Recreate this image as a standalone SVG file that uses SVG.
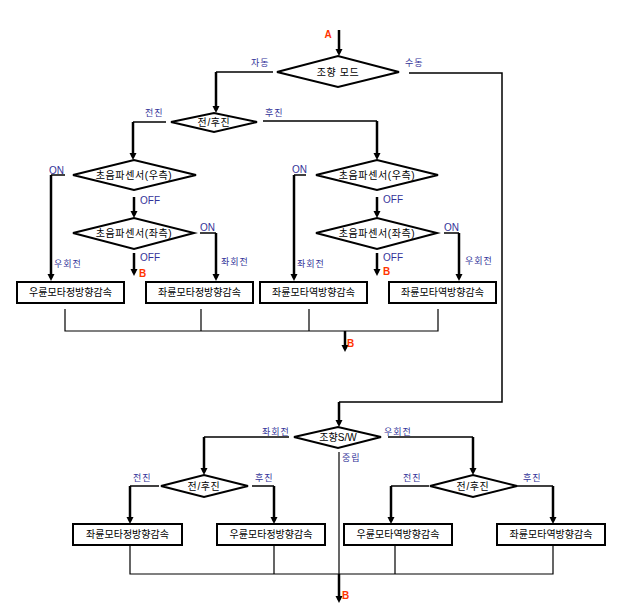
<svg xmlns="http://www.w3.org/2000/svg" width="621" height="606" viewBox="0 0 621 606">
<defs>
<marker id="ah" markerUnits="userSpaceOnUse" markerWidth="8" markerHeight="8" refX="4" refY="4" orient="auto">
<path d="M0,0.5 L7,4 L0,7.5 z" fill="#000"/>
</marker>
<style>
.thin{stroke:#000;stroke-width:1.5;fill:none}
.hair{stroke:#000;stroke-width:1.2;fill:none}
.thick{stroke:#000;stroke-width:2.5;fill:none;marker-end:url(#ah)}
.dia{fill:#fff;stroke:#000;stroke-width:2}
.box{fill:#fff;stroke:#000;stroke-width:2}
text{font-family:"Liberation Sans","Noto Sans CJK KR",sans-serif}
.nt{font-size:10px;fill:#000;text-anchor:middle}
.dt{letter-spacing:0.6px}
.lb{font-size:9px;fill:#333399;letter-spacing:1px}
.en{font-size:10px;fill:#333399}
.red{font-size:10px;fill:#ff3300;font-weight:bold}
</style>
</defs>
<rect width="621" height="606" fill="#fff"/>

<g id="connectors">
<path class="thick" d="M339,30 V53"/>
<path class="thin" d="M273,72 H216"/>
<path class="thick" d="M216,72 V110"/>
<path class="thin" d="M409,73 H502 V402 H339"/>
<path class="thick" d="M339,402 V424"/>
<path class="thin" d="M166,122 H133"/>
<path class="thick" d="M133,122 V157"/>
<path class="thin" d="M263,121 H377"/>
<path class="thick" d="M377,121 V157"/>
<path class="thin" d="M65,175 H51"/>
<path class="thick" d="M51,175 V278"/>
<path class="thick" d="M134,197 V215"/>
<path class="thin" d="M200,233 H216"/>
<path class="thick" d="M216,233 V278"/>
<path class="thick" d="M134,253 V273"/>
<path class="thin" d="M306,175 H294"/>
<path class="thick" d="M294,175 V278"/>
<path class="thick" d="M377,197 V215"/>
<path class="thin" d="M444,233 H459"/>
<path class="thick" d="M459,233 V278"/>
<path class="thick" d="M377,253 V273"/>
<path class="hair" d="M65,309 V331 H438 V309 M201,309 V331 M309,309 V331"/>
<path class="thick" d="M345,331 V349"/>
<path class="thin" d="M289,437 H204"/>
<path class="thick" d="M204,437 V472"/>
<path class="thin" d="M388,437 H473"/>
<path class="thick" d="M473,437 V472"/>
<path class="hair" d="M339,452 V574"/>
<path class="thick" d="M339,574 V600"/>
<path class="thin" d="M159,486 H130"/>
<path class="thick" d="M130,486 V521"/>
<path class="thin" d="M252,486 H274"/>
<path class="thick" d="M274,486 V521"/>
<path class="thin" d="M429,486 H391"/>
<path class="thick" d="M391,486 V521"/>
<path class="thin" d="M517,486 H553"/>
<path class="thick" d="M553,486 V521"/>
<path class="hair" d="M130,545 V574 H553 V545 M274,545 V574 M395,545 V574"/>
</g>

<g id="labels">
<text class="red" x="328" y="38" text-anchor="middle">A</text>
<text class="lb" x="251" y="66">자동</text>
<text class="lb" x="405" y="66">수동</text>
<text class="lb" x="145" y="116">전진</text>
<text class="lb" x="265" y="116">후진</text>
<text class="en" x="49" y="174">ON</text>
<text class="lb" x="54" y="267">우회전</text>
<text class="en" x="140" y="204">OFF</text>
<text class="en" x="140" y="261">OFF</text>
<text class="red" x="139" y="277">B</text>
<text class="en" x="200" y="231">ON</text>
<text class="lb" x="221" y="265">좌회전</text>
<text class="en" x="292" y="173">ON</text>
<text class="lb" x="297" y="267">좌회전</text>
<text class="en" x="383" y="203">OFF</text>
<text class="en" x="383" y="261">OFF</text>
<text class="red" x="383" y="275">B</text>
<text class="en" x="444" y="231">ON</text>
<text class="lb" x="465" y="264">우회전</text>
<text class="red" x="347" y="347">B</text>
<text class="lb" x="262" y="435">좌회전</text>
<text class="lb" x="384" y="435">우회전</text>
<text class="lb" x="342" y="461">중립</text>
<text class="lb" x="133" y="481">전진</text>
<text class="lb" x="255" y="481">후진</text>
<text class="lb" x="403" y="481">전진</text>
<text class="lb" x="523" y="481">후진</text>
<text class="red" x="342" y="599">B</text>
</g>

<g id="d1"><polygon class="dia" points="277,72 338,56 399,72 338,87"/><text class="nt dt" x="338" y="76">조향 모드</text></g>
<g id="d2"><polygon class="dia" points="171,122 214,113 257,122 214,132"/><text class="nt dt" x="214" y="126">전/후진</text></g>
<g id="d3"><polygon class="dia" points="73,175 134,160 196,175 134,190"/><text class="nt dt" x="134" y="179">초음파센서(우측)</text></g>
<g id="d4"><polygon class="dia" points="73,233 134,218 194,233 134,249"/><text class="nt dt" x="134" y="237">초음파센서(좌측)</text></g>
<g id="d5"><polygon class="dia" points="316,175 377,160 438,175 377,190"/><text class="nt dt" x="377" y="179">초음파센서(우측)</text></g>
<g id="d6"><polygon class="dia" points="316,233 377,218 437,233 377,249"/><text class="nt dt" x="377" y="237">초음파센서(좌측)</text></g>
<g id="d7"><polygon class="dia" points="294,437 338,427 381,437 338,448"/><text class="nt" x="338" y="441">조향S/W</text></g>
<g id="d8"><polygon class="dia" points="161,486 204,475 248,486 204,497"/><text class="nt dt" x="204" y="490">전/후진</text></g>
<g id="d9"><polygon class="dia" points="430,486 473,475 517,486 473,497"/><text class="nt dt" x="473" y="490">전/후진</text></g>

<g id="b1"><rect class="box" x="17" y="282" width="107" height="21"/><text class="nt" x="70.5" y="296">우륜모타정방향감속</text></g>
<g id="b2"><rect class="box" x="146" y="282" width="107" height="21"/><text class="nt" x="199.5" y="296">좌륜모타정방향감속</text></g>
<g id="b3"><rect class="box" x="260" y="282" width="107" height="21"/><text class="nt" x="313.5" y="296">좌륜모타역방향감속</text></g>
<g id="b4"><rect class="box" x="389" y="282" width="107" height="21"/><text class="nt" x="442.5" y="296">좌륜모타역방향감속</text></g>
<g id="b5"><rect class="box" x="73" y="524" width="109" height="21"/><text class="nt" x="127.5" y="538">좌륜모타정방향감속</text></g>
<g id="b6"><rect class="box" x="217" y="524" width="108" height="21"/><text class="nt" x="271" y="538">우륜모타정방향감속</text></g>
<g id="b7"><rect class="box" x="344" y="524" width="108" height="21"/><text class="nt" x="398" y="538">우륜모타역방향감속</text></g>
<g id="b8"><rect class="box" x="497" y="524" width="108" height="21"/><text class="nt" x="551" y="538">좌륜모타역방향감속</text></g>
</svg>
